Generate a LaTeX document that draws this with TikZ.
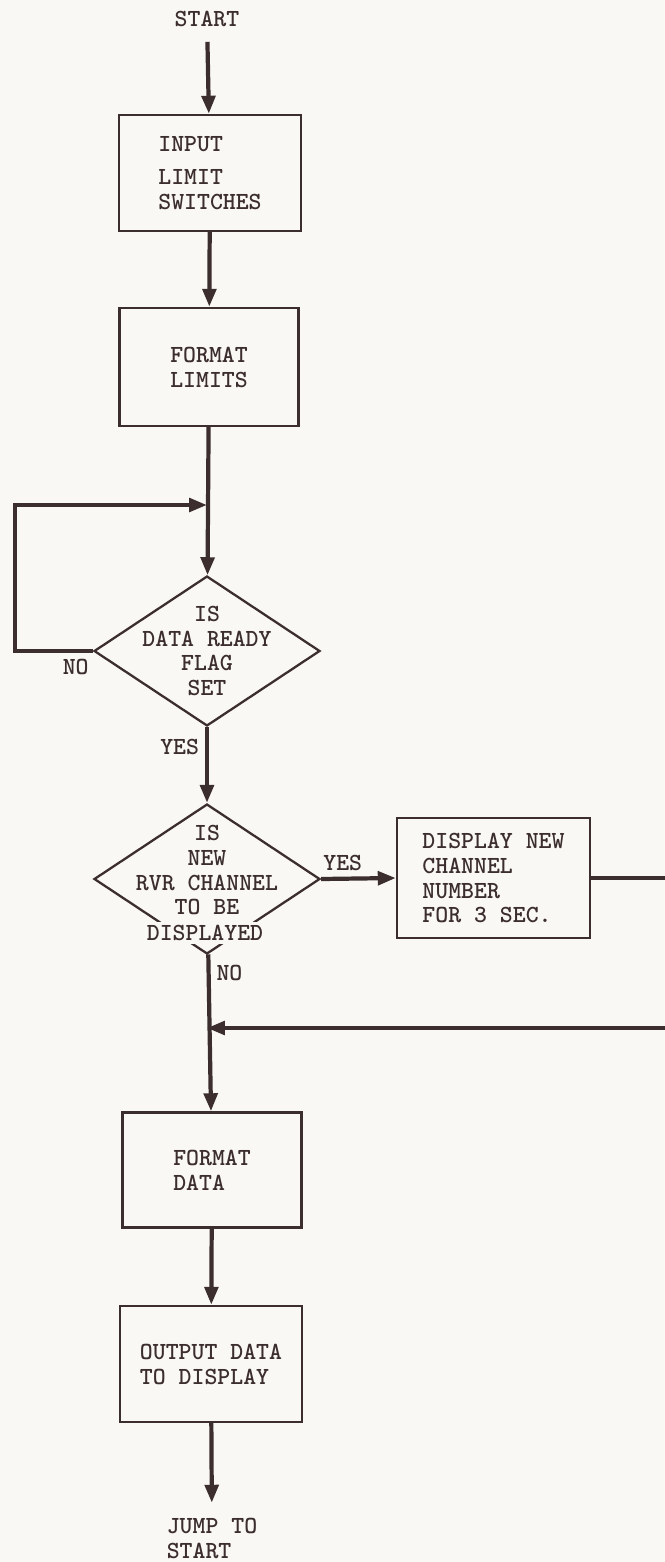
\documentclass[tikz,border=0pt]{standalone}
\usepackage{tikz}
\usetikzlibrary{positioning, arrows.meta, shapes.geometric, calc}
\definecolor{ink}{RGB}{60,46,46}
\definecolor{paper}{RGB}{249,248,245}

\begin{document}
\begin{tikzpicture}[
            x=0.02cm, y=-0.02cm,
            every node/.style={text=ink, font=\fontsize{14}{14.2}\selectfont\ttfamily\bfseries},
            proc/.style={rectangle, draw=ink, line width=1.4pt, minimum width=3.64cm, minimum height=2.32cm, inner sep=0pt, align=left},
            decision/.style={diamond, draw=ink, line width=1.3pt, minimum width=4.52cm, minimum height=3.0cm, inner sep=0pt},
            dtext/.style={align=center, inner sep=1pt},
            flow/.style={-{Triangle[length=3.6mm, width=2.7mm]}, draw=ink, line width=2.4pt},
            term/.style={align=left}
            ]

            % Paper
            \fill[paper] (0,0) rectangle (665,1562);
            \useasboundingbox (0,0) rectangle (665,1562);

            % Start and first boxes
            \node[term] (start) at (207,19) {START};
            \node[proc] (input) at (210,173) {INPUT\\[4.5pt]LIMIT\\SWITCHES};
            \node[proc, minimum width=3.58cm, minimum height=2.36cm] (fmtlim) at (209,367) {FORMAT\\LIMITS};

            % Data ready test
            \coordinate (join1) at (207,505);
            \node[decision] (ready) at (207,651) {};
            \node[dtext] (readytxt) at (ready) {IS\\DATA READY\\FLAG\\SET};

            % New channel test
            \node[decision] (newch) at (207,879) {};
            \node[dtext] (newchtxt) at (207,870) {IS\\NEW\\RVR CHANNEL\\TO BE};
            \node[dtext, fill=paper, inner sep=2pt] (newchlast) at (205,933) {DISPLAYED};

            % Channel display
            \node[proc, minimum width=3.86cm, minimum height=2.4cm] (dispch) at (493.5,878) {DISPLAY NEW\\CHANNEL\\NUMBER\\FOR 3 SEC.};

            % Data output
            \coordinate (join2) at (207,1028);
            \node[proc, minimum width=3.58cm, minimum height=2.3cm] (fmtdat) at (212,1170) {FORMAT\\DATA};
            \node[proc, minimum width=3.64cm, minimum height=2.32cm] (outdat) at (211,1364) {OUTPUT DATA\\TO DISPLAY};
            \node[term] (jump) at (212,1538) {JUMP TO\\START};

            % Edges
            \draw[flow, shorten <=5pt] (start) -- (input);
            \draw[flow] (input) -- (fmtlim);
            \draw[flow] (fmtlim) -- (ready);
            \draw[flow] (ready.west) -- node[below, pos=0.22] {NO} ++(-78,0) |- (join1);
            \draw[flow] (ready) -- node[left, pos=0.26] {YES} (newch);
            \draw[flow] (newch.east) -- node[above, pos=0.29] {YES} (dispch.west);
            \draw[flow] (newch) -- node[right, pos=0.12] {NO} (fmtdat);
            \draw[flow] (dispch.east) -- ++(82,0) |- (join2);
            \draw[flow] (fmtdat) -- (outdat);
            \draw[flow, shorten >=5pt] (outdat) -- (jump);

        \end{tikzpicture}
\end{document}
